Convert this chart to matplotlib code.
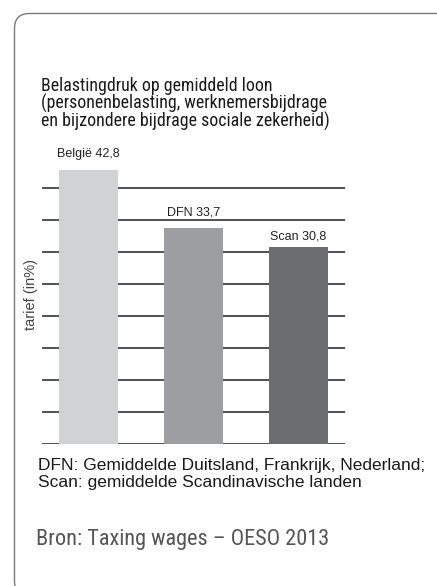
import matplotlib
matplotlib.use("Agg")
import matplotlib.pyplot as plt
from matplotlib.patches import FancyBboxPatch

categories = ["België", "DFN", "Scan"]
values = [42.8, 33.7, 30.8]
value_labels = ["42,8", "33,7", "30,8"]
grid_ticks = [0, 5, 10, 15, 20, 25, 30, 35, 40]

title_lines = ["Belastingdruk op gemiddeld loon",
               "(personenbelasting, werknemersbijdrage",
               "en bijzondere bijdrage sociale zekerheid)"]
ylabel = "tarief (in%)"
footnote_lines = ["DFN: Gemiddelde Duitsland, Frankrijk, Nederland;",
                  "Scan: gemiddelde Scandinavische landen"]
source = "Bron: Taxing wages – OESO 2013"

colors = ["#d1d2d4", "#9d9ea2", "#6c6d71"]
label_offsets_pt = [9.5, 9.5, 5.5]

W, H = 437, 586
fig = plt.figure(figsize=(W / 100, H / 100), dpi=100)
fig.patch.set_facecolor("white")

# rounded frame (pixel coordinates)
box = FancyBboxPatch((14.5, -10), 440, 573 + 10 - 0.5,
                     boxstyle="round,pad=0,rounding_size=15",
                     transform=None, facecolor="none",
                     edgecolor="#7a7a7a", linewidth=1.0)
fig.patches.append(box)

# axes placement (pixels)
ax_left, ax_right, ax_bottom = 42, 345, 444
ymax = 45
ppu = 6.4
ax_top = ax_bottom - ymax * ppu
ax = fig.add_axes([ax_left / W, (H - ax_bottom) / H,
                   (ax_right - ax_left) / W, (ax_bottom - ax_top) / H])

x = list(range(len(categories)))
ax.bar(x, values, width=0.56, color=colors, zorder=3)
ax.set_xlim(-0.441, 2.445)
ax.set_ylim(0, ymax)
for t in grid_ticks:
    ax.axhline(t, color="#333333", linewidth=1.2, zorder=1)
for s in ax.spines.values():
    s.set_visible(False)
ax.set_xticks([])
ax.set_yticks([])
ax.set_facecolor("none")

for xi, v, c, lab, off in zip(x, values, categories, value_labels, label_offsets_pt):
    ax.annotate(f"{c} {lab}", (xi, v), xytext=(0, off), textcoords="offset points",
                ha="center", va="baseline", fontsize=9, color="#222222",
                family="Liberation Sans", annotation_clip=False)

fig.text(31 / W, 1 - 294 / H, ylabel, rotation=90, ha="center", va="center",
         fontsize=10.5, color="#444444", family="Liberation Sans")

for i, line in enumerate(title_lines):
    fig.text(41 / W, 1 - (90.7 + 18 * i) / H, line, ha="left", va="baseline",
             fontsize=12.9, color="#1a1a1a", family="Roboto Condensed")

for i, line in enumerate(footnote_lines):
    fig.text(38 / W, 1 - (470 + 16.7 * i) / H, line, ha="left", va="baseline",
             fontsize=12.5, color="#1a1a1a", family="Liberation Sans")

fig.text(36 / W, 1 - 545 / H, source, ha="left", va="baseline",
         fontsize=16, color="#555555", family="Roboto Condensed")

fig.savefig("out.png", dpi=100)
